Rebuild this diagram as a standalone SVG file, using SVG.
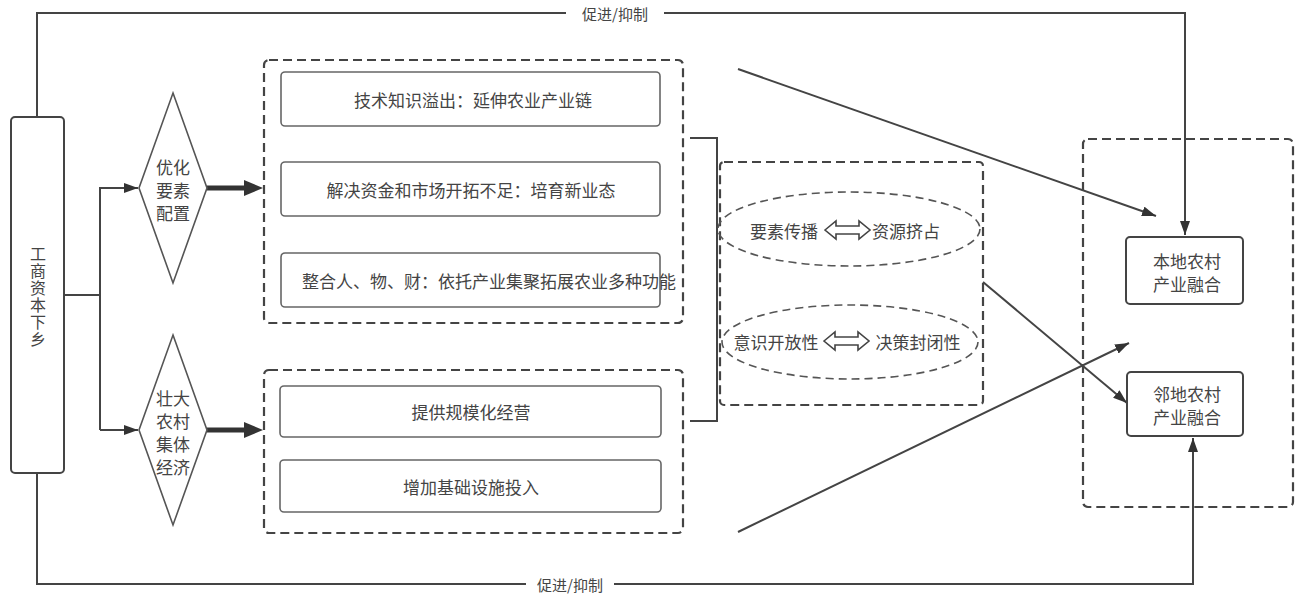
<svg xmlns="http://www.w3.org/2000/svg" width="1302" height="597" viewBox="0 0 1302 597">
<style>
text{font-family:"Noto Sans CJK SC","Liberation Sans",sans-serif;fill:#444;}
.t{font-size:17px;text-anchor:middle;dominant-baseline:central;}
.lbl{font-size:15px;text-anchor:middle;dominant-baseline:central;}
.vt{font-size:16px;text-anchor:middle;writing-mode:vertical-rl;letter-spacing:1px;}
.solid{fill:none;stroke:#444;stroke-width:2;}
.inner{fill:#fff;stroke:#666;stroke-width:1.6;}
.dash{fill:none;stroke:#444;stroke-width:2.2;stroke-dasharray:9 5;}
.edash{fill:none;stroke:#555;stroke-width:1.6;stroke-dasharray:8 5;}
.ln{fill:none;stroke:#444;stroke-width:2;}
.thick{fill:none;stroke:#333;stroke-width:5;}
.hollow{fill:#fff;stroke:#444;stroke-width:1.6;stroke-linejoin:miter;}
</style>
<defs>
<marker id="arr" markerUnits="userSpaceOnUse" markerWidth="14" markerHeight="10" viewBox="0 0 14 10" refX="14" refY="5" orient="auto">
<path d="M0,0 L14,5 L0,10 z" fill="#333"/>
</marker>
</defs>
<rect width="1302" height="597" fill="#fff"/>

<g id="connectors">
<path class="ln" d="M37,117 V13 H566"/>
<path class="ln" d="M664,13 H1185 V235" marker-end="url(#arr)"/>
<text class="lbl" x="615" y="13">促进/抑制</text>
<path class="ln" d="M37,473 V584 H526"/>
<path class="ln" d="M614,584 H1193 V438" marker-end="url(#arr)"/>
<text class="lbl" x="570" y="584">促进/抑制</text>
<path class="ln" d="M64,295 H100"/>
<path class="ln" d="M100,187 V430"/>
<path class="ln" d="M100,188 H138" marker-end="url(#arr)"/>
<path class="ln" d="M100,430 H138" marker-end="url(#arr)"/>
<path class="thick" d="M207,188 H246"/>
<polygon points="244,180 263,188 244,196" fill="#333"/>
<path class="thick" d="M207,430 H246"/>
<polygon points="244,422 263,430 244,438" fill="#333"/>
<path class="ln" d="M690,138 H717 V421 H690"/>
<path class="ln" d="M738,69 L1156,216" marker-end="url(#arr)"/>
<path class="ln" d="M983,282 L1127,403" marker-end="url(#arr)"/>
<path class="ln" d="M738,532 L1129,343" marker-end="url(#arr)"/>
</g>

<g id="n-capital">
<rect x="11" y="117" width="53" height="356" rx="4" class="solid"/>
<text class="vt" x="38" y="297">工商资本下乡</text>
</g>

<g id="n-optimize">
<polygon points="173,93 207,188 173,283 139,188" fill="#fff" stroke="#555" stroke-width="1.6"/>
<text class="t" x="173" y="166">优化</text>
<text class="t" x="173" y="189">要素</text>
<text class="t" x="173" y="212">配置</text>
</g>

<g id="n-collective">
<polygon points="173,335 207,430 173,525 139,430" fill="#fff" stroke="#555" stroke-width="1.6"/>
<text class="t" x="173" y="397">壮大</text>
<text class="t" x="173" y="420">农村</text>
<text class="t" x="173" y="443">集体</text>
<text class="t" x="173" y="466">经济</text>
</g>

<g id="g-upper">
<rect x="264" y="60" width="419" height="263" rx="5" class="dash"/>
</g>
<g id="n-tech">
<rect x="281" y="72" width="379" height="54" rx="4" class="inner"/>
<text class="t" x="473" y="99">技术知识溢出：延伸农业产业链</text>
</g>
<g id="n-fund">
<rect x="281" y="162" width="379" height="54" rx="4" class="inner"/>
<text class="t" x="471" y="189">解决资金和市场开拓不足：培育新业态</text>
</g>
<g id="n-integrate">
<rect x="281" y="253" width="379" height="54" rx="4" class="inner"/>
<text class="t" x="489" y="280">整合人、物、财：依托产业集聚拓展农业多种功能</text>
</g>

<g id="g-lower">
<rect x="264" y="370" width="419" height="163" rx="5" class="dash"/>
</g>
<g id="n-scale">
<rect x="280" y="386" width="381" height="51" rx="4" class="inner"/>
<text class="t" x="471" y="411">提供规模化经营</text>
</g>
<g id="n-infra">
<rect x="280" y="460" width="381" height="52" rx="4" class="inner"/>
<text class="t" x="471" y="486">增加基础设施投入</text>
</g>

<g id="g-middle">
<rect x="720" y="162" width="263" height="243" rx="4" class="dash"/>
</g>
<g id="n-spread">
<ellipse cx="849" cy="229" rx="131" ry="37" class="edash"/>
<text class="t" x="784" y="230">要素传播</text>
<polygon class="hollow" points="825,230 836,221 836,226 859,226 859,221 870,230 859,239 859,234 836,234 836,239"/>
<text class="t" x="906" y="230">资源挤占</text>
</g>
<g id="n-open">
<ellipse cx="850" cy="342" rx="128" ry="37" class="edash"/>
<text class="t" x="776" y="341">意识开放性</text>
<polygon class="hollow" points="824,341 835,332 835,337 858,337 858,332 869,341 858,350 858,345 835,345 835,350"/>
<text class="t" x="918" y="341">决策封闭性</text>
</g>

<g id="g-right">
<rect x="1083" y="139" width="210" height="368" rx="5" class="dash"/>
</g>
<g id="n-local">
<rect x="1126" y="237" width="117" height="67" rx="4" class="solid"/>
<text class="t" x="1187" y="260">本地农村</text>
<text class="t" x="1187" y="283">产业融合</text>
</g>
<g id="n-neighbor">
<rect x="1127" y="372" width="116" height="64" rx="4" class="solid"/>
<text class="t" x="1187" y="393">邻地农村</text>
<text class="t" x="1187" y="416">产业融合</text>
</g>
</svg>
